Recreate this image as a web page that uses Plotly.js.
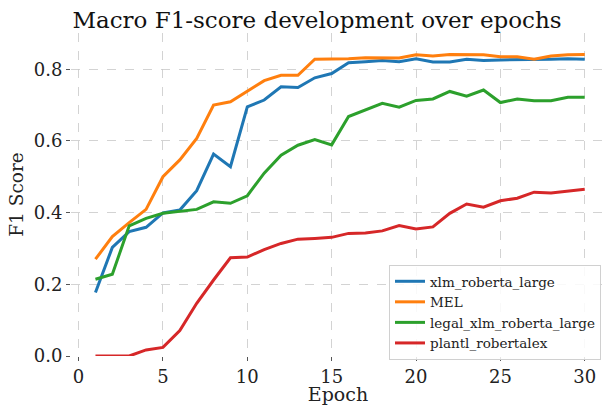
<!DOCTYPE html>
<html>
<head>
<meta charset="utf-8">
<script src="https://cdn.plot.ly/plotly-3.0.1.min.js"></script>
<style>html,body{margin:0;padding:0;background:#fff;}#chart{width:605px;height:405px;}</style>
</head>
<body>
<div id="chart"></div>
<script>
const epochs = [1,2,3,4,5,6,7,8,9,10,11,12,13,14,15,16,17,18,19,20,21,22,23,24,25,26,27,28,29,30];
const xlmRobertaLarge = [0.177,0.303,0.347,0.359,0.399,0.407,0.461,0.563,0.528,0.695,0.714,0.751,0.749,0.776,0.788,0.818,0.821,0.824,0.821,0.829,0.820,0.820,0.828,0.824,0.826,0.826,0.826,0.828,0.829,0.828];
const mel = [0.270,0.333,0.372,0.409,0.500,0.547,0.607,0.700,0.709,0.739,0.768,0.783,0.783,0.828,0.828,0.829,0.832,0.832,0.831,0.840,0.837,0.841,0.840,0.840,0.835,0.835,0.828,0.837,0.840,0.841];
const legalXlmRobertaLarge = [0.214,0.228,0.363,0.384,0.398,0.403,0.409,0.430,0.426,0.447,0.510,0.560,0.588,0.604,0.589,0.668,0.686,0.705,0.694,0.713,0.717,0.738,0.725,0.742,0.707,0.717,0.712,0.712,0.722,0.722];
const plantlRobertalex = [0.000,0.000,0.000,0.017,0.024,0.071,0.147,0.212,0.274,0.276,0.297,0.314,0.326,0.328,0.331,0.342,0.343,0.349,0.364,0.354,0.360,0.398,0.424,0.415,0.433,0.440,0.457,0.455,0.460,0.465];
const seriesNames = ["xlm_roberta_large","MEL","legal_xlm_roberta_large","plantl_robertalex"];
const seriesColors = ["#1f77b4","#ff7f0e","#2ca02c","#d62728"];
const xTicks = [0,5,10,15,20,25,30];
const yTicks = [0.0,0.2,0.4,0.6,0.8];
const yTickLabels = ["0.0","0.2","0.4","0.6","0.8"];

const seriesValues = [xlmRobertaLarge, mel, legalXlmRobertaLarge, plantlRobertalex];
const traces = seriesValues.map((vals, i) => ({
  x: epochs, y: vals, name: seriesNames[i], type: 'scatter', mode: 'lines',
  line: {color: seriesColors[i], width: 3}
}));

const font = "'DejaVu Serif', serif";
const layout = {
  width: 605, height: 405,
  margin: {l: 71, r: 0, t: 33, b: 49},
  paper_bgcolor: '#fff', plot_bgcolor: '#fff',
  font: {family: font, color: '#222', size: 17},
  title: {text: 'Macro F1-score development over epochs', font: {family: font, size: 23, color: '#111'},
          x: 0.4607, xref: 'paper', xanchor: 'center', y: 0.95, yref: 'container', yanchor: 'middle'},
  xaxis: {
    range: [-0.45, 31.2], tickvals: xTicks, ticktext: xTicks.map(String),
    showgrid: true, gridcolor: '#c8c8c8', griddash: 'dash', gridwidth: 0.8,
    zeroline: false, showline: false,
    ticks: 'outside', ticklen: 4, tickwidth: 1, tickcolor: '#555',
    tickfont: {family: font, size: 18, color: '#222'},
    title: {text: 'Epoch', font: {family: font, size: 19, color: '#222'}, standoff: 4}
  },
  yaxis: {
    range: [0, 0.901], tickvals: yTicks, ticktext: yTickLabels,
    showgrid: true, gridcolor: '#c8c8c8', griddash: 'dash', gridwidth: 0.8,
    zeroline: false, showline: false,
    ticks: 'outside', ticklen: 4, tickwidth: 1, tickcolor: '#555',
    tickfont: {family: font, size: 18, color: '#222'},
    title: {text: 'F1 Score', font: {family: font, size: 18.5, color: '#222'}, standoff: 5}
  },
  legend: {
    x: 0.5955, y: 0.2817, xanchor: 'left', yanchor: 'top',
    bgcolor: 'rgba(255,255,255,0.85)', bordercolor: '#d0d0d0', borderwidth: 1,
    font: {family: font, size: 13.5, color: '#222'},
    tracegroupgap: 0
  },
  showlegend: true
};
Plotly.newPlot('chart', traces, layout, {displayModeBar: false, staticPlot: true});
</script>
</body>
</html>
